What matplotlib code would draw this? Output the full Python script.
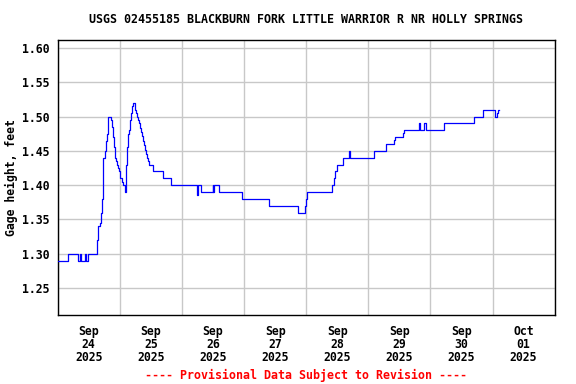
import matplotlib
matplotlib.use("Agg")
import matplotlib.pyplot as plt
import matplotlib.dates as mdates
import numpy as np
from datetime import datetime, timedelta

# Data: hours since 2025-09-24 00:00 and gage height (ft), step changes
hours = [0.0, 4.14, 7.77, 8.46, 8.85, 10.59, 10.98, 11.63, 15.34, 15.73,
         16.50, 16.89, 17.28, 17.66, 18.20, 18.82, 19.21, 19.59, 20.75, 21.14,
         21.53, 21.91, 22.30, 22.69, 23.07, 23.46, 23.85, 24.23, 24.77, 25.16,
         26.16, 26.43, 26.94, 27.32, 27.71, 28.10, 28.48, 28.87, 29.26, 30.03,
         30.42, 30.80, 31.19, 31.57, 31.96, 32.35, 32.73, 33.12, 33.51, 33.89,
         34.28, 34.67, 35.05, 35.44, 36.98, 40.85, 43.83, 53.76, 53.99, 54.26,
         55.30, 59.94, 60.17, 60.44, 62.26, 71.07, 81.82, 92.71, 95.73, 96.11,
         96.50, 106.16, 106.70, 107.09, 107.86, 110.18, 112.74, 113.00, 122.40, 126.80,
         129.89, 130.28, 133.37, 133.76, 139.67, 140.06, 141.60, 142.38, 149.33, 160.66,
         164.13, 168.93, 169.70, 170.20, 170.40]
values = [1.29, 1.30, 1.29, 1.30, 1.29, 1.30, 1.29, 1.30, 1.32, 1.34,
          1.345, 1.36, 1.38, 1.44, 1.45, 1.465, 1.475, 1.50, 1.495, 1.485,
          1.47, 1.455, 1.44, 1.435, 1.43, 1.425, 1.42, 1.41, 1.405, 1.40,
          1.39, 1.43, 1.455, 1.474, 1.48, 1.495, 1.505, 1.515, 1.52, 1.51,
          1.505, 1.50, 1.495, 1.49, 1.484, 1.478, 1.471, 1.464, 1.459, 1.451,
          1.445, 1.44, 1.435, 1.43, 1.42, 1.41, 1.40, 1.39, 1.385, 1.40,
          1.39, 1.40, 1.39, 1.40, 1.39, 1.38, 1.37, 1.36, 1.37, 1.38,
          1.39, 1.40, 1.41, 1.42, 1.43, 1.44, 1.45, 1.44, 1.45, 1.46,
          1.466, 1.47, 1.476, 1.48, 1.49, 1.48, 1.49, 1.48, 1.49, 1.50,
          1.51, 1.50, 1.505, 1.51, 1.51]

start = datetime(2025, 9, 24)
day_labels = ["Sep\n24\n2025", "Sep\n25\n2025", "Sep\n26\n2025", "Sep\n27\n2025",
              "Sep\n28\n2025", "Sep\n29\n2025", "Sep\n30\n2025", "Oct\n01\n2025"]
y_ticks = [1.25, 1.30, 1.35, 1.40, 1.45, 1.50, 1.55, 1.60]

times = [start + timedelta(hours=h) for h in hours]

font = "DejaVu Sans Mono"
fig = plt.figure(figsize=(5.76, 3.84), dpi=100)
ax = fig.add_axes([0.1000, 0.1797, 0.8630, 0.7161])

ax.plot(times, values, color="#0000ff", lw=0.9, drawstyle="steps-post", zorder=3)

ax.set_xlim(start, start + timedelta(days=8))
ax.set_ylim(1.2107, 1.6117)

major = [start + timedelta(days=i) for i in range(9)]
minor = [start + timedelta(days=i, hours=12) for i in range(8)]
ax.set_xticks(major)
ax.set_xticklabels([])
ax.set_xticks(minor, minor=True)
ax.set_xticklabels(day_labels, minor=True, fontfamily=font, fontweight="bold",
                   fontsize=8.3, linespacing=1.0)
ax.tick_params(axis="x", which="both", length=0, pad=7)

ax.set_yticks(y_ticks)
ax.set_yticklabels([f"{v:.2f}" for v in y_ticks], fontfamily=font,
                   fontweight="bold", fontsize=8.3)
ax.tick_params(axis="y", length=0, pad=6)

ax.grid(True, which="major", color="#c8c8c8", lw=1.0, zorder=0)
for s in ax.spines.values():
    s.set_color("black")
    s.set_linewidth(1.0)

ax.set_ylabel("Gage height, feet", fontfamily=font, fontweight="bold",
              fontsize=8.3, labelpad=3)

fig.text(0.5305, 0.948, "USGS 02455185 BLACKBURN FORK LITTLE WARRIOR R NR HOLLY SPRINGS",
         ha="center", va="center", fontfamily=font, fontweight="bold", fontsize=8.4)
fig.text(0.5305, 0.023, "---- Provisional Data Subject to Revision ----",
         ha="center", va="center", fontfamily=font, fontweight="bold",
         fontsize=8.4, color="#ff0000")

fig.savefig("out.png", dpi=100)
